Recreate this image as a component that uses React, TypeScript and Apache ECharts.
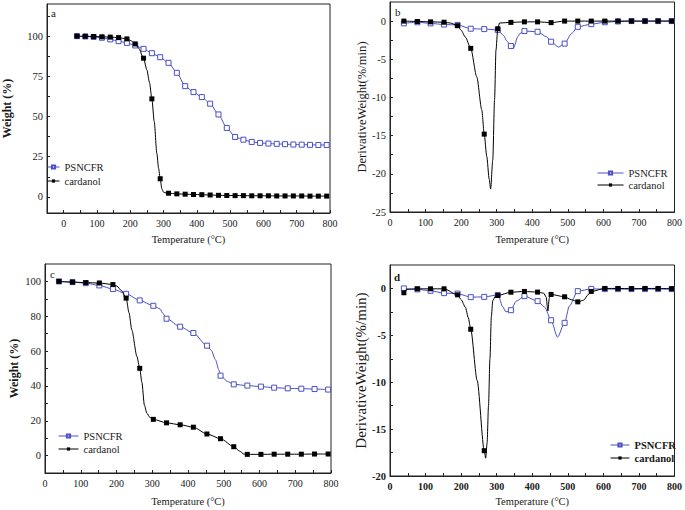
import React, { useEffect, useRef } from "react";
import * as echarts from "echarts";

type Pt = [number, number];

const FONT = "Liberation Serif";
const BLUE = "#4b50c4";
const INK = "#1a1a1a";

const seriesNames = ["PSNCFR", "cardanol"];
const panelLetters = ["a", "b", "c", "d"];
const xTitle = "Temperature (°C)";
const yTitles = ["Weight (%)", "DerivativeWeight(%/min)", "Weight (%)", "DerivativeWeight(%/min)"];

// ---- Panel a (TGA, markers every 25 °C) ----
const tempsA = [40, 65, 90, 115, 140, 165, 190, 215, 240, 265, 290, 315, 340, 365, 390, 415, 440, 465, 490, 515, 540, 565, 590, 615, 640, 665, 690, 715, 740, 765, 790];
const aPsncfr = [100, 99.8, 99.5, 99.0, 98.0, 96.9, 95.8, 94.2, 92.1, 89.4, 86.9, 83.4, 77.2, 68.9, 65.2, 62.1, 58.0, 51.3, 42.9, 37.3, 35.6, 34.2, 33.6, 33.2, 33.0, 32.8, 32.6, 32.5, 32.4, 32.3, 32.3];
const aCardanol = [100, 99.9, 99.8, 99.6, 99.4, 99.1, 98.3, 95.2, 86.3, 61.0, 11.3, 2.3, 1.9, 1.7, 1.5, 1.4, 1.2, 1.0, 0.9, 0.8, 0.8, 0.7, 0.7, 0.7, 0.6, 0.6, 0.6, 0.6, 0.5, 0.5, 0.5];
const aPsncfrCurve: Pt[] = [];
const aCardanolCurve: Pt[] = [[200, 97.4], [225, 92.6], [250, 79], [258, 71], [272, 47], [280, 27], [285, 18], [295, 5], [300, 3], [308, 2.4]];

// ---- Panels b, c, d (markers every ~37.7 °C) ----
const tempsBCD = [39, 77, 114, 152, 190, 227, 265, 303, 340, 378, 415, 453, 491, 528, 566, 604, 641, 679, 717, 754, 792];

const bPsncfr = [-0.3, -0.15, -0.3, -0.45, -0.5, -1.0, -1.05, -1.15, -3.27, -1.3, -1.4, -2.7, -2.95, -0.75, -0.4, -0.15, -0.05, 0, 0, 0, 0];
const bCardanol = [0, -0.05, -0.1, -0.15, -0.6, -3.57, -14.8, -1.0, -0.17, -0.1, -0.1, -0.2, 0, 0, 0, 0, 0, 0, 0, 0, 0];
const bPsncfrCurve: Pt[] = [[320, -1.9], [328, -2.6], [347, -3.55], [360, -2.0], [366, -1.6], [440, -2.05], [474, -3.4], [511, -1.6]];
const bCardanolCurve: Pt[] = [[170, -0.25], [200, -1.2], [212, -2.1], [244, -7.3], [258, -11.6], [272, -17.7], [279, -20.7], [283, -22.0], [289, -18.2], [294, -10.3], [298, -3.8], [308, -0.25]];

const cPsncfr = [100, 99.6, 99.0, 97.7, 95.6, 92.9, 89.1, 86.0, 78.6, 74.0, 70.4, 63.1, 45.9, 40.9, 40.2, 39.6, 39.0, 38.6, 38.4, 38.2, 37.9];
const cCardanol = [100, 99.6, 99.3, 99.1, 98.2, 90.4, 50.1, 20.8, 18.8, 17.7, 16.3, 12.4, 9.7, 5.1, 0.7, 0.7, 0.8, 0.8, 0.8, 0.9, 0.9];
const cPsncfrCurve: Pt[] = [[322, 84.2], [330, 81.5], [465, 60.5], [477, 55], [486, 49.3], [510, 42.6]];
const cCardanolCurve: Pt[] = [[201, 97.3], [215, 94.5], [235, 82], [243, 72], [257, 57], [271, 42], [278, 29], [285, 24.3], [293, 22], [545, 2.5], [556, 0.9]];

const dPsncfr = [0, -0.1, -0.25, -0.5, -0.55, -0.93, -0.9, -0.7, -2.32, -0.82, -1.35, -3.39, -3.67, -0.29, -0.05, -0.07, -0.07, -0.07, -0.07, -0.07, -0.07];
const dCardanol = [-0.46, -0.04, -0.04, -0.04, -0.68, -4.35, -17.3, -0.75, -0.4, -0.32, -0.39, -0.64, -0.89, -1.43, -0.32, 0, 0, -0.02, 0, 0, -0.03];
const dPsncfrCurve: Pt[] = [[307, -1.0], [316, -1.9], [326, -2.5], [355, -1.36], [435, -2.0], [471, -5.2], [504, -1.9]];
const dCardanolCurve: Pt[] = [[46, -0.1], [200, -1.2], [212, -2.0], [220, -3.1], [245, -9.8], [269, -18.1], [273, -16.5], [277, -12.5], [281, -7.5], [285, -3.0], [289, -1.3], [296, -0.85], [432, -0.5], [439, -0.9], [444, -2.4], [448, -1.0], [510, -1.2], [545, -1.25], [556, -0.7]];

// ---- axes ----
const xTicks = [0, 50, 100, 150, 200, 250, 300, 350, 400, 450, 500, 550, 600, 650, 700, 750, 800];
const xLabels = [0, 100, 200, 300, 400, 500, 600, 700, 800];
const yTicksA = [0, 12.5, 25, 37.5, 50, 62.5, 75, 87.5, 100, 112.5];
const yLabelsA = [0, 25, 50, 75, 100];
const yTicksB = [-25, -22.5, -20, -17.5, -15, -12.5, -10, -7.5, -5, -2.5, 0];
const yLabelsB = [-25, -20, -15, -10, -5, 0];
const yTicksC = [0, 10, 20, 30, 40, 50, 60, 70, 80, 90, 100];
const yLabelsC = [0, 20, 40, 60, 80, 100];
const yTicksD = [-20, -17.5, -15, -12.5, -10, -7.5, -5, -2.5, 0];
const yLabelsD = [-20, -15, -10, -5, 0];

function build(temps: number[], vals: number[], curve: Pt[]) {
  const pts: { value: Pt; mark: boolean }[] = temps.map((t, i) => ({ value: [t, vals[i]] as Pt, mark: true }));
  curve.forEach((p) => pts.push({ value: p, mark: false }));
  pts.sort((a, b) => a.value[0] - b.value[0]);
  return pts.map((p) => (p.mark ? { value: p.value } : { value: p.value, symbol: "none" }));
}

function lineSeries(name: string, idx: number, data: any[]) {
  const blue = name === seriesNames[0];
  return {
    type: "line",
    name,
    xAxisIndex: idx,
    yAxisIndex: idx,
    data,
    smooth: 0.25,
    smoothMonotone: "x",
    symbol: "rect",
    symbolSize: 5,
    lineStyle: { color: blue ? BLUE : "#000", width: 1 },
    itemStyle: blue ? { color: "#fff", borderColor: BLUE, borderWidth: 1 } : { color: "#000", borderColor: "#000", borderWidth: 0 },
    emphasis: { disabled: true },
    z: blue ? 2 : 3,
  };
}

function xAxis(idx: number, min: number, gap: number, bold: boolean) {
  return {
    type: "value",
    gridIndex: idx,
    min,
    max: 800,
    name: xTitle,
    nameLocation: "middle",
    nameGap: gap,
    nameTextStyle: { fontFamily: FONT, fontSize: 10.5, color: INK },
    axisLine: { show: true, onZero: false, lineStyle: { color: "#222", width: 1 } },
    axisTick: { show: true, inside: true, length: 3, customValues: xTicks, lineStyle: { color: "#222" } },
    axisLabel: { customValues: xLabels, fontFamily: FONT, fontSize: 10, fontWeight: bold ? "bold" : "normal", color: INK, margin: 5 },
    splitLine: { show: false },
  };
}

function yAxis(idx: number, min: number, max: number, ticks: number[], labels: number[], gap: number, boldName: boolean, size: number, boldLabels: boolean) {
  return {
    type: "value",
    gridIndex: idx,
    min,
    max,
    name: yTitles[idx],
    nameLocation: "middle",
    nameGap: gap,
    nameTextStyle: { fontFamily: FONT, fontSize: size, fontWeight: boldName ? "bold" : "normal", color: INK },
    axisLine: { show: true, onZero: false, lineStyle: { color: "#222", width: 1 } },
    axisTick: { show: true, inside: true, length: 3, customValues: ticks, lineStyle: { color: "#222" } },
    axisLabel: { customValues: labels, fontFamily: FONT, fontSize: 10.5, fontWeight: boldLabels ? "bold" : "normal", color: INK, margin: 4 },
    splitLine: { show: false },
  };
}

function legend(left: number, top: number, itemWidth: number, gap: number, bold: boolean) {
  return {
    data: seriesNames,
    orient: "vertical",
    left,
    top,
    padding: 0,
    itemWidth,
    itemHeight: 4,
    itemGap: gap,
    selectedMode: false,
    lineStyle: { width: 1 },
    textStyle: { fontFamily: FONT, fontSize: 10.5, fontWeight: bold ? "bold" : "normal", color: INK, lineHeight: 12 },
  };
}

export default function App() {
  const ref = useRef<HTMLDivElement>(null);
  useEffect(() => {
    if (!ref.current) return;
    const chart = echarts.init(ref.current, null, { renderer: "svg" });
    const grid = (left: number, top: number, width: number, height: number) => ({
      left, top, width, height, show: true, borderColor: "#222", borderWidth: 1, backgroundColor: "transparent",
    });
    const letter = (i: number, left: number, top: number, bold: boolean) => ({
      type: "text", left, top, style: { text: panelLetters[i], font: `${bold ? "bold " : ""}11px ${FONT}`, fill: INK },
    });
    chart.setOption({
      animation: false,
      textStyle: { fontFamily: FONT },
      grid: [grid(45, 4, 285, 209), grid(390, 2, 286, 210), grid(45, 264, 286, 209), grid(390, 265, 286, 211)],
      xAxis: [xAxis(0, -50, 21, false), xAxis(1, 0, 22, false), xAxis(2, 0, 23, false), xAxis(3, 0, 20, true)],
      yAxis: [
        yAxis(0, -10, 120, yTicksA, yLabelsA, 34, true, 12, false),
        yAxis(1, -25, 2.5, yTicksB, yLabelsB, 20, false, 12.6, false),
        yAxis(2, -10, 110, yTicksC, yLabelsC, 25, true, 12, false),
        yAxis(3, -20, 2.5, yTicksD, yLabelsD, 20, false, 15, true),
      ],
      legend: [
        legend(47, 161, 12, 2, false),
        legend(597, 167, 26, 0, false),
        legend(58, 430, 20, 1, false),
        legend(610, 439, 19, 1, true),
      ],
      graphic: [letter(0, 51, 7, false), letter(1, 395, 6, false), letter(2, 50, 268, false), letter(3, 394, 271, true)],
      series: [
        lineSeries(seriesNames[0], 0, build(tempsA, aPsncfr, aPsncfrCurve)),
        lineSeries(seriesNames[1], 0, build(tempsA, aCardanol, aCardanolCurve)),
        lineSeries(seriesNames[0], 1, build(tempsBCD, bPsncfr, bPsncfrCurve)),
        lineSeries(seriesNames[1], 1, build(tempsBCD, bCardanol, bCardanolCurve)),
        lineSeries(seriesNames[0], 2, build(tempsBCD, cPsncfr, cPsncfrCurve)),
        lineSeries(seriesNames[1], 2, build(tempsBCD, cCardanol, cCardanolCurve)),
        lineSeries(seriesNames[0], 3, build(tempsBCD, dPsncfr, dPsncfrCurve)),
        lineSeries(seriesNames[1], 3, build(tempsBCD, dCardanol, dCardanolCurve)),
      ],
    });
    return () => chart.dispose();
  }, []);
  return (
    <div
      ref={ref}
      style={{ position: "fixed", left: 0, top: 0, width: 685, height: 510, background: "#fff" }}
    />
  );
}
